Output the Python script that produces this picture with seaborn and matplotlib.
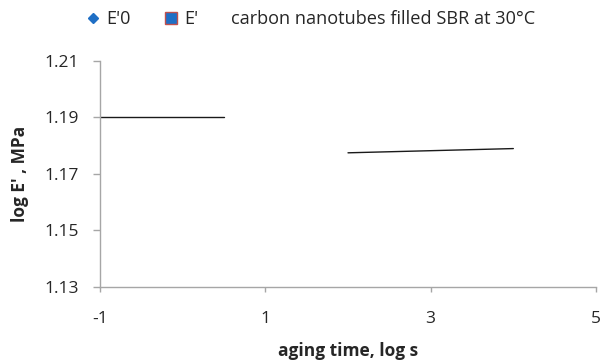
import matplotlib
matplotlib.use("Agg")
import matplotlib.pyplot as plt
from matplotlib.lines import Line2D
import seaborn as sns
import pandas as pd

# data
e0_x = [-1.0, 0.5]
e0_y = [1.19, 1.19]
e_x = [2.0, 4.0]
e_y = [1.1775, 1.179]
x_ticks = [-1, 1, 3, 5]
y_ticks = [1.13, 1.15, 1.17, 1.19, 1.21]
legend_labels = ["E'0", "E'"]
title_text = "carbon nanotubes filled SBR at 30°C"

sns.set_theme(style="white")
plt.rcParams['font.family'] = ['Open Sans', 'DejaVu Sans']
FS = 12.5
LFS = 13.1

df0 = pd.DataFrame({"x": e0_x, "y": e0_y})
df1 = pd.DataFrame({"x": e_x, "y": e_y})

fig = plt.figure(figsize=(6.03, 3.61), dpi=100)
ax = fig.add_axes([100/603, 1-287/361, (596-100)/603, (287-61)/361])

sns.lineplot(data=df0, x="x", y="y", ax=ax, color="#1a1a1a", linewidth=1.0)
sns.lineplot(data=df1, x="x", y="y", ax=ax, color="#1a1a1a", linewidth=1.0)

ax.set_xlim(-1, 5)
ax.set_ylim(1.13, 1.21)
ax.set_xticks(x_ticks)
ax.set_xticklabels([str(t) for t in x_ticks])
ax.set_yticks(y_ticks)
ax.set_yticklabels([f"{t:.2f}" for t in y_ticks])

for s in ["top", "right"]:
    ax.spines[s].set_visible(False)
for s in ["left", "bottom"]:
    ax.spines[s].set_color("#a6a6a6")
    ax.spines[s].set_linewidth(1.0)

ax.tick_params(axis="y", direction="out", length=5, width=1, color="#a6a6a6",
               labelsize=FS, pad=10, left=True)
ax.tick_params(axis="x", direction="out", length=3.6, width=1, color="#a6a6a6",
               labelsize=FS, pad=14, bottom=True)

ax.set_xlabel("aging time, log s", fontsize=FS, fontweight="bold", labelpad=10.5)
ax.set_ylabel("log E' , MPa", fontsize=FS, fontweight="bold", labelpad=11.5)

handles = [
    Line2D([], [], linestyle="none", marker="D", markersize=5.5, color="#1f6fc5"),
    Line2D([], [], linestyle="none", marker="s", markersize=8.5,
           markerfacecolor="#1f6fc5", markeredgecolor="#c0504d"),
]
fig.legend(handles, legend_labels, loc="center left", bbox_to_anchor=(86/603, 1-19/361),
           ncol=2, frameon=False, fontsize=LFS, handlelength=0.8,
           handletextpad=0.3, columnspacing=1.85, borderpad=0, borderaxespad=0)
fig.text(231/603, 1-19/361, title_text, fontsize=LFS, ha="left", va="center")

fig.savefig("out.png", dpi=100)
